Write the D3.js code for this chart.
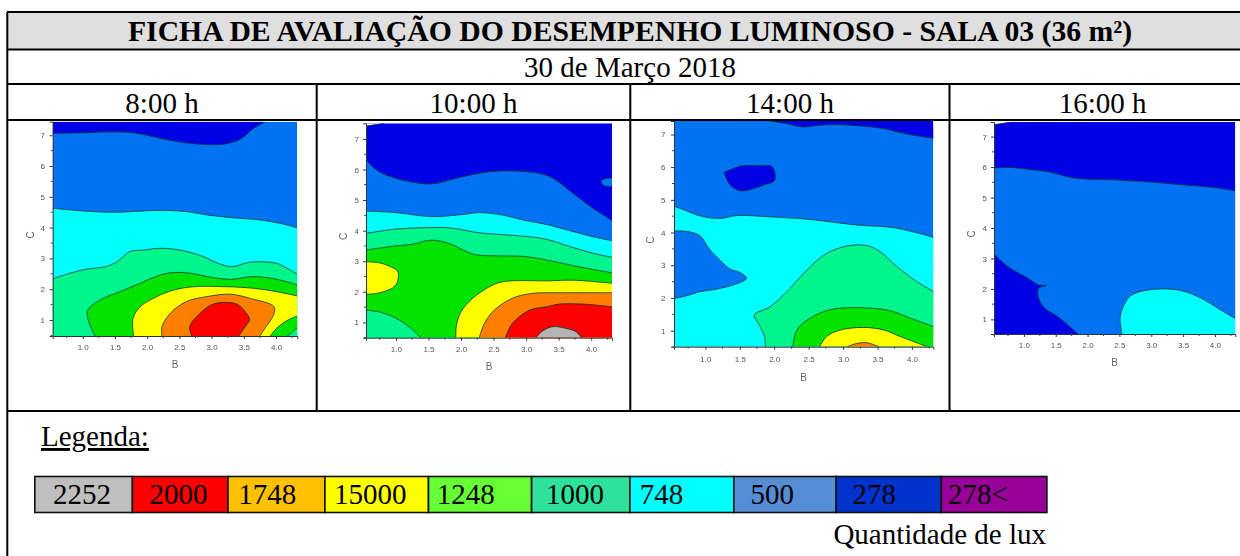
<!DOCTYPE html>
<html><head><meta charset="utf-8">
<style>html,body{margin:0;padding:0;background:#fff}svg{display:block}text{font-family:"Liberation Serif",serif;fill:#000}</style>
<script src="https://cdn.jsdelivr.net/npm/d3@7"></script></head>
<body><svg id="c" width="1240" height="556"></svg>
<script>
// ---------- data ----------
const title = "FICHA DE AVALIAÇÃO DO DESEMPENHO LUMINOSO - SALA 03 (36 m²)";
const dateLabel = "30 de Março 2018";
const timeLabels = ["8:00 h","10:00 h","14:00 h","16:00 h"];
const bTicks = [1,1.5,2,2.5,3,3.5,4];
const bMinor = [0.75,1.25,1.75,2.25,2.75,3.25,3.75,4.25];
const cTicks = [1,2,3,4,5,6,7];
const cMinor = [0.5,1.5,2.5,3.5,4.5,5.5,6.5];
const bDomains = [[0.534,4.33],[0.54,4.32],[0.545,4.31],[0.53,4.32]];
const cDomains = [[0.48,7.44],[0.50,7.51],[0.51,7.41],[0.52,7.48]];
const legendLabels = ["2252","2000","1748","15000","1248","1000","748","500","278","278<"];
const legendColors = ["#bfbfbf","#ff0000","#ffc000","#ffff00","#66ff33","#2ee29b","#00ffff","#558ed5","#0033cc","#990099"];
const legendTitle = "Legenda:";
const unitLabel = "Quantidade de lux";
// contour band colours
const DARK="#0000e4", BLUE="#0072f2", CYAN="#00ffff", MINT="#00f58c", GREEN="#00e400", YEL="#ffff00", ORG="#ff8000", RED="#ff0000", GRAY="#b4b4b4", NONE="#ffffff";

// contour bands for each hour: boundary in (B, C), painted in order;
// "to" names the plot corners that close the boundary, the rest of the plot is the base colour.
const bands8 = [
 {c:DARK, to:["TR","TL"], line:[[0.53,7.06],[1.01,7.08],[1.48,7.11],[1.79,7.08],[2.15,6.93],[2.51,6.78],[2.82,6.71],[3.18,6.71],[3.44,6.87],[3.65,7.22],[3.83,7.44]]},
 {c:CYAN, to:["BR","BL"], line:[[0.53,4.63],[1.01,4.54],[1.48,4.50],[2.20,4.56],[2.61,4.52],[2.93,4.41],[3.34,4.32],[3.75,4.25],[4.06,4.14],[4.33,3.99]]},
 {c:MINT, to:["BR","BL"], line:[[0.53,2.33],[0.80,2.52],[1.06,2.65],[1.35,2.73],[1.53,2.89],[1.73,3.22],[1.94,3.27],[2.23,3.33],[2.56,3.25],[2.87,3.06],[3.08,2.86],[3.31,2.73],[3.55,2.86],[3.70,2.89],[4.01,2.84],[4.17,2.68],[4.33,2.49]]},
 {c:GREEN, to:["BR"], line:[[1.19,0.48],[1.07,1.27],[1.27,1.65],[1.58,1.92],[1.89,2.19],[2.20,2.46],[2.41,2.54],[2.67,2.52],[2.93,2.41],[3.29,2.32],[3.65,2.41],[4.01,2.32],[4.33,2.14]]},
 {c:YEL, to:["BR"], line:[[1.79,0.48],[1.78,1.05],[1.89,1.43],[2.15,1.76],[2.41,1.97],[2.72,2.08],[3.24,2.08],[3.65,2.03],[4.01,1.92],[4.33,1.78]]},
 {c:GREEN, to:["BR"], line:[[3.91,0.48],[4.01,0.73],[4.17,0.98],[4.33,1.13]]},
 {c:MINT, to:["BR"], line:[[4.17,0.48],[4.25,0.59],[4.33,0.76]]},
 {c:ORG, to:[], line:[[2.23,0.48],[2.23,0.78],[2.36,1.22],[2.61,1.60],[2.93,1.76],[3.29,1.84],[3.60,1.70],[3.97,1.43],[3.96,1.16],[3.81,0.68],[3.75,0.48]]},
 {c:RED, to:[], line:[[2.69,0.48],[2.66,0.78],[2.77,1.11],[3.03,1.52],[3.39,1.52],[3.52,1.27],[3.59,1.02],[3.52,0.78],[3.42,0.48]]}
];
const bands10 = [
 {c:NONE, to:["TL"], line:[[0.54,7.42],[0.82,7.51]]},
 {c:BLUE, to:["BR","BL"], line:[[0.54,6.33],[0.69,6.00],[1.00,5.71],[1.54,5.53],[1.92,5.71],[2.44,5.93],[3.00,5.93],[3.36,5.77],[3.72,5.22],[3.82,5.06],[4.03,4.73],[4.32,4.33]]},
 {c:BLUE, to:[], line:[[4.32,5.71],[4.23,5.71],[4.15,5.60],[4.21,5.46],[4.32,5.44]]},
 {c:CYAN, to:["BR","BL"], line:[[0.54,4.64],[1.00,4.59],[1.54,4.46],[2.03,4.53],[2.28,4.59],[2.64,4.51],[2.95,4.35],[3.36,4.18],[3.72,3.97],[4.03,3.80],[4.32,3.67]]},
 {c:MINT, to:["BR","BL"], line:[[0.54,3.91],[1.00,4.05],[1.54,4.10],[1.87,4.08],[2.28,3.93],[2.95,3.82],[3.31,3.72],[3.67,3.48],[4.03,3.26],[4.32,3.13]]},
 {c:GREEN, to:["BR","BL"], line:[[0.54,3.37],[1.00,3.50],[1.26,3.56],[1.54,3.69],[1.82,3.58],[2.03,3.37],[2.21,3.22],[3.00,3.15],[3.36,3.02],[3.67,2.88],[4.03,2.73],[4.32,2.62]]},
 {c:MINT, to:["BL"], line:[[0.54,1.40],[0.79,1.32],[1.05,1.08],[1.26,0.75],[1.38,0.50]]},
 {c:YEL, to:[], line:[[0.54,2.98],[0.74,2.95],[0.92,2.82],[1.03,2.66],[1.00,2.22],[0.85,2.03],[0.64,1.93],[0.54,1.93]]},
 {c:YEL, to:["BR"], line:[[1.92,0.50],[1.93,0.91],[2.00,1.35],[2.18,1.79],[2.44,2.17],[2.64,2.33],[3.36,2.36],[3.72,2.38],[4.32,2.28]]},
 {c:ORG, to:["BR"], line:[[2.28,0.50],[2.36,0.97],[2.51,1.40],[2.79,1.79],[3.10,1.95],[3.56,1.97],[4.32,1.97]]},
 {c:RED, to:["BR"], line:[[2.68,0.50],[2.79,0.97],[3.05,1.40],[3.31,1.51],[3.51,1.60],[3.87,1.60],[4.32,1.51]]},
 {c:GRAY, to:[], line:[[3.15,0.50],[3.26,0.73],[3.41,0.86],[3.56,0.83],[3.77,0.69],[3.85,0.50]]}
];
const bands14 = [
 {c:DARK, to:["TR"], line:[[1.94,7.41],[2.18,7.33],[2.40,7.23],[2.62,7.27],[2.86,7.30],[3.25,7.26],[3.59,7.18],[3.93,7.01],[4.32,6.88]]},
 {c:DARK, to:[], line:[[1.27,5.84],[1.41,5.96],[1.55,6.04],[1.84,6.04],[1.96,6.03],[2.01,5.81],[2.00,5.58],[1.84,5.45],[1.67,5.32],[1.50,5.28],[1.36,5.45],[1.27,5.84]]},
 {c:CYAN, to:["BR","BL"], line:[[0.54,4.81],[0.73,4.66],[0.92,4.51],[1.21,4.43],[1.46,4.52],[1.94,4.48],[2.52,4.40],[3.20,4.23],[3.69,4.16],[4.02,4.02],[4.32,3.85]]},
 {c:BLUE, to:[], line:[[0.54,4.05],[0.75,4.03],[0.92,3.90],[1.07,3.46],[1.21,3.16],[1.36,2.88],[1.50,2.78],[1.60,2.60],[1.50,2.47],[1.21,2.29],[0.92,2.19],[0.73,2.07],[0.54,1.98]]},
 {c:MINT, to:["BR"], line:[[1.87,0.51],[1.86,0.82],[1.77,1.22],[1.71,1.48],[1.94,1.73],[2.23,2.29],[2.47,2.85],[2.76,3.36],[3.06,3.59],[3.35,3.60],[3.54,3.41],[3.78,2.96],[4.07,2.50],[4.32,2.19]]},
 {c:GREEN, to:["BR"], line:[[2.27,0.51],[2.33,1.02],[2.52,1.38],[2.86,1.66],[3.64,1.63],[3.98,1.38],[4.32,1.12]]},
 {c:YEL, to:[], line:[[2.66,0.51],[2.76,0.82],[2.96,1.02],[3.30,1.10],[3.59,1.02],[3.83,0.82],[4.22,0.51]]},
 {c:ORG, to:[], line:[[3.06,0.51],[3.20,0.61],[3.35,0.63],[3.52,0.51]]}
];
const bands16 = [
 {c:NONE, to:["TL"], line:[[0.53,7.39],[0.83,7.49]]},
 {c:BLUE, to:["BR","BL"], line:[[0.53,5.97],[0.80,5.99],[1.06,5.93],[1.38,5.85],[1.80,5.64],[2.43,5.58],[3.06,5.50],[3.48,5.42],[4.00,5.33],[4.32,5.22]]},
 {c:DARK, to:["BL"], line:[[0.53,3.15],[0.75,2.73],[1.06,2.35],[1.23,2.13],[1.35,2.11],[1.23,2.02],[1.23,1.69],[1.33,1.36],[1.53,1.09],[1.85,0.52]]},
 {c:CYAN, to:["BR"], line:[[2.54,0.52],[2.51,1.03],[2.56,1.42],[2.66,1.75],[2.82,1.91],[3.16,2.00],[3.48,1.94],[3.79,1.69],[4.05,1.36],[4.32,1.03]]}
];
const hourBands = [bands8, bands10, bands14, bands16];
const baseColors = [BLUE, DARK, BLUE, DARK];

// ---------- layout ----------
const plots = [
 {l:52.7,r:297.3,t:121.7,b:336,  xLab:347,yLabX:44,   bY:364,  cX:30},
 {l:366, r:612,  t:123.3,b:337.7,xLab:349,yLabX:358,  bY:366,  cX:343},
 {l:674, r:933.3,t:121,  b:346.7,xLab:359,yLabX:664.5,bY:377,  cX:650},
 {l:994, r:1235.3,t:122, b:334,  xLab:345,yLabX:986,  bY:362,  cX:971}
];
const timeX = [162,473.5,790,1102.6];
const legendEdges = [34.8,132.4,228,324.9,428.5,531.6,629.9,733.8,836.2,941.3,1046.9];
const legendTextX = [53,149.4,238.3,334,436.8,546,639.8,750.4,852.4,948];

const svg = d3.select("#c");
const defs = svg.append("defs");
defs.append("filter").attr("id","soft").attr("x","-5%").attr("y","-5%").attr("width","110%").attr("height","110%")
  .append("feGaussianBlur").attr("stdDeviation",0.6);

const FS = 29, FS_TITLE = 29.7;
// header background
svg.append("rect").attr("x",7).attr("y",12).attr("width",1233).attr("height",37).attr("fill","#dfdfdf");

// ---------- contour panels ----------
plots.forEach((p,i)=>{
  const x = d3.scaleLinear().domain(bDomains[i]).range([p.l,p.r]);
  const y = d3.scaleLinear().domain(cDomains[i]).range([p.b,p.t]);
  const corner = {
    TL:[bDomains[i][0],cDomains[i][1]], TR:[bDomains[i][1],cDomains[i][1]],
    BL:[bDomains[i][0],cDomains[i][0]], BR:[bDomains[i][1],cDomains[i][0]]
  };
  const line = d3.line().x(d=>x(d[0])).y(d=>y(d[1])).curve(d3.curveCatmullRom.alpha(0.5));
  const g = svg.append("g").attr("filter","url(#soft)");
  const id = "clip"+i;
  defs.append("clipPath").attr("id",id).append("rect")
    .attr("x",p.l).attr("y",p.t).attr("width",p.r-p.l).attr("height",p.b-p.t);
  const area = g.append("g").attr("clip-path",`url(#${id})`);
  area.append("rect").attr("x",p.l).attr("y",p.t).attr("width",p.r-p.l).attr("height",p.b-p.t).attr("fill",baseColors[i]);
  const band = area.selectAll("g.band").data(hourBands[i]).join("g").attr("class","band");
  band.append("path").attr("fill",d=>d.c)
    .attr("d",d=>line(d.line)+d.to.map(k=>`L${x(corner[k][0])},${y(corner[k][1])}`).join("")+"Z");
  band.append("path").attr("fill","none").attr("stroke","#00302c").attr("stroke-width",0.75)
    .attr("d",d=>line(d.line));

  const axB = d3.axisBottom(x).tickValues(bTicks).tickFormat(d3.format(".1f")).tickSize(3).tickPadding(0);
  const axC = d3.axisLeft(y).tickValues(cTicks).tickFormat(d3.format("d")).tickSize(3).tickPadding(0);
  const gx = g.append("g").attr("transform",`translate(0,${p.b})`).call(axB);
  const gy = g.append("g").attr("transform",`translate(${p.l},0)`).call(axC);
  gx.selectAll("line.minor").data(bMinor).join("line").attr("class","minor").attr("x1",d=>x(d)).attr("x2",d=>x(d)).attr("y1",0).attr("y2",2).attr("stroke","#444");
  gy.selectAll("line.minor").data(cMinor).join("line").attr("class","minor").attr("y1",d=>y(d)).attr("y2",d=>y(d)).attr("x1",0).attr("x2",-2).attr("stroke","#444");
  [gx,gy].forEach(a=>{
    a.select(".domain").attr("stroke","#334");
    a.selectAll(".tick line").attr("stroke","#333");
    a.selectAll("text").style("font-family","'Liberation Sans',sans-serif").style("font-size","8px").style("fill","#555");
  });
  gx.selectAll(".tick text").attr("y",p.xLab-p.b+3).attr("dy",0);
  gy.selectAll(".tick text").attr("x",p.yLabX-p.l+1).attr("dy","0.32em");
  g.append("text").attr("x",(p.l+p.r)/2).attr("y",p.bY+3.5).attr("text-anchor","middle")
    .style("font-family","'Liberation Sans',sans-serif").style("font-size","10px").style("fill","#666").text("B");
  g.append("text").attr("transform",`translate(${p.cX+3.5},${(p.t+p.b)/2+6}) rotate(-90)`).attr("text-anchor","middle")
    .style("font-family","'Liberation Sans',sans-serif").style("font-size","10px").style("fill","#666").text("C");
});

// ---------- table rules ----------
const rules = [[7,12,1240,12],[7,49.5,1240,49.5],[7,84,1240,84],[7,120,1240,120],[7,411,1240,411],[7.3,12,7.3,556],
  [316.7,84,316.7,411],[630.3,84,630.3,411],[949.5,84,949.5,411]];
svg.append("g").selectAll("line").data(rules).join("line")
  .attr("x1",d=>d[0]).attr("y1",d=>d[1]).attr("x2",d=>d[2]).attr("y2",d=>d[3])
  .attr("stroke","#000").attr("stroke-width",2);

// ---------- text ----------
svg.append("text").attr("x",630).attr("y",41).attr("text-anchor","middle").attr("font-weight","bold")
  .attr("font-size",FS_TITLE).text(title);
svg.append("text").attr("x",630).attr("y",77).attr("text-anchor","middle").attr("font-size",FS).text(dateLabel);
svg.append("g").selectAll("text").data(timeLabels).join("text")
  .attr("x",(d,i)=>timeX[i]).attr("y",112.5).attr("text-anchor","middle").attr("font-size",FS).text(d=>d);

// ---------- legend ----------
svg.append("text").attr("x",41).attr("y",446).attr("font-size",FS).attr("text-decoration","underline").text(legendTitle);
const lg = svg.append("g").selectAll("g").data(legendLabels).join("g");
lg.append("rect").attr("x",(d,i)=>legendEdges[i]).attr("y",476.5)
  .attr("width",(d,i)=>legendEdges[i+1]-legendEdges[i]).attr("height",36)
  .attr("fill",(d,i)=>legendColors[i]).attr("stroke","#111").attr("stroke-width",1.6);
lg.append("text").attr("x",(d,i)=>legendTextX[i]).attr("y",504).attr("font-size",FS).text(d=>d);
svg.append("text").attr("x",1046).attr("y",544).attr("text-anchor","end").attr("font-size",FS).text(unitLabel);
</script></body></html>
